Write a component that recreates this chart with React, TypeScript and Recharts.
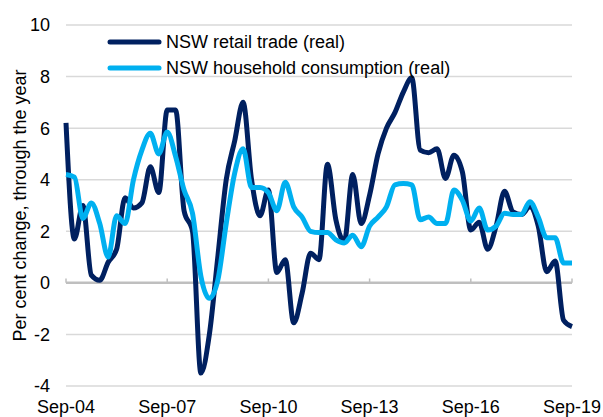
import { CartesianGrid, Legend, Line, LineChart, ReferenceLine, XAxis, YAxis } from "recharts";

const quarters = [
  "Sep-04", "Dec-04", "Mar-05", "Jun-05", "Sep-05", "Dec-05", "Mar-06", "Jun-06",
  "Sep-06", "Dec-06", "Mar-07", "Jun-07", "Sep-07", "Dec-07", "Mar-08", "Jun-08",
  "Sep-08", "Dec-08", "Mar-09", "Jun-09", "Sep-09", "Dec-09", "Mar-10", "Jun-10",
  "Sep-10", "Dec-10", "Mar-11", "Jun-11", "Sep-11", "Dec-11", "Mar-12", "Jun-12",
  "Sep-12", "Dec-12", "Mar-13", "Jun-13", "Sep-13", "Dec-13", "Mar-14", "Jun-14",
  "Sep-14", "Dec-14", "Mar-15", "Jun-15", "Sep-15", "Dec-15", "Mar-16", "Jun-16",
  "Sep-16", "Dec-16", "Mar-17", "Jun-17", "Sep-17", "Dec-17", "Mar-18", "Jun-18",
  "Sep-18", "Dec-18", "Mar-19", "Jun-19", "Sep-19",
];

const retailTrade = [
  6.2, 1.7, 3.0, 0.3, 0.1, 0.8, 1.3, 3.3, 2.9, 3.1, 4.5, 3.5,
  6.7, 6.7, 2.8, 2.0, -3.5, -2.0, 1.0, 4.0, 5.5, 7.0, 4.0, 2.6,
  3.6, 0.4, 0.9, -1.55, -0.4, 1.15, 0.9, 4.6, 2.45, 1.6, 4.2, 2.3,
  3.4, 5.0, 6.0, 6.6, 7.4, 7.95, 5.15, 5.05, 5.2, 4.05, 4.95, 4.3,
  2.05, 2.35, 1.3, 2.2, 3.55, 2.75, 2.65, 2.95, 2.2, 0.43, 0.85, -1.45,
  -1.7,
];

const householdConsumption = [
  4.2, 4.1, 2.5, 3.1, 2.3, 1.0, 2.6, 2.3, 4.0, 5.15, 5.8, 5.0,
  5.85, 4.9, 3.6, 2.7, 0.25, -0.6, 0.1, 2.3, 4.25, 5.2, 3.7, 3.7,
  3.5, 2.8, 3.9, 2.95, 2.55, 2.0, 1.95, 1.95, 1.67, 1.55, 1.85, 1.4,
  2.2, 2.55, 2.95, 3.8, 3.85, 3.8, 2.45, 2.55, 2.3, 2.3, 3.6, 3.2,
  2.4, 2.9, 2.05, 2.2, 2.7, 2.65, 2.65, 3.15, 2.55, 1.75, 1.75, 0.77,
  0.77,
];

const xTickLabels = ["Sep-04", "Sep-07", "Sep-10", "Sep-13", "Sep-16", "Sep-19"];
const yTicks = [-4, -2, 0, 2, 4, 6, 8, 10];

const data = quarters.map((q, i) => ({
  quarter: q,
  retail: retailTrade[i],
  consumption: householdConsumption[i],
}));

const FONT = '"Liberation Sans", Arial, sans-serif';

const series = [
  { key: "retail", name: "NSW retail trade (real)", color: "#002060" },
  { key: "consumption", name: "NSW household consumption (real)", color: "#00B0F0" },
];

function LegendRows() {
  return (
    <div style={{ fontFamily: FONT, fontSize: 18, color: "#000" }}>
      {series.map((s) => (
        <div key={s.key} style={{ display: "flex", alignItems: "center", height: 26 }}>
          <svg width={57} height={10} style={{ marginRight: 3 }}>
            <line x1={4} y1={5} x2={53} y2={5} stroke={s.color} strokeWidth={5} strokeLinecap="round" />
          </svg>
          <span style={{ whiteSpace: "nowrap" }}>{s.name}</span>
        </div>
      ))}
    </div>
  );
}

export default function App() {
  return (
    <div style={{ position: "absolute", left: 0, top: 0, background: "#fff" }}>
      <LineChart width={603} height={417} data={data} margin={{ top: 25, right: 31, left: 0, bottom: 0 }}>
        <CartesianGrid horizontal vertical={false} stroke="#D9D9D9" strokeWidth={1.5} />
        <XAxis
          dataKey="quarter"
          interval={11}
          height={31}
          axisLine={false}
          tickLine={false}
          tickMargin={8}
          tick={{ fill: "#000", fontSize: 18, fontFamily: FONT }}
        />
        <YAxis
          domain={[-4, 10]}
          ticks={yTicks}
          width={66}
          axisLine={false}
          tickLine={false}
          tickMargin={10}
          tick={{ fill: "#000", fontSize: 18, fontFamily: FONT }}
          label={{
            value: "Per cent change, through the year",
            angle: -90,
            position: "insideLeft",
            offset: 20,
            style: { textAnchor: "middle", fill: "#000", fontSize: 18, fontFamily: FONT },
          }}
        />
        <ReferenceLine y={0} stroke="#BFBFBF" strokeWidth={2.5} />
        {xTickLabels.map((t) => (
          <ReferenceLine
            key={t}
            segment={[{ x: t, y: 0 }, { x: t, y: 0.17 }]}
            stroke="#BFBFBF"
            strokeWidth={1.5}
          />
        ))}
        <Legend
          layout="vertical"
          align="center"
          verticalAlign="middle"
          wrapperStyle={{ left: 106, top: 29, width: 400, height: 52 }}
          content={<LegendRows />}
        />
        {series.map((s) => (
          <Line
            key={s.key}
            type="monotone"
            dataKey={s.key}
            name={s.name}
            stroke={s.color}
            strokeWidth={5}
            dot={false}
            isAnimationActive={false}
          />
        ))}
      </LineChart>
    </div>
  );
}
